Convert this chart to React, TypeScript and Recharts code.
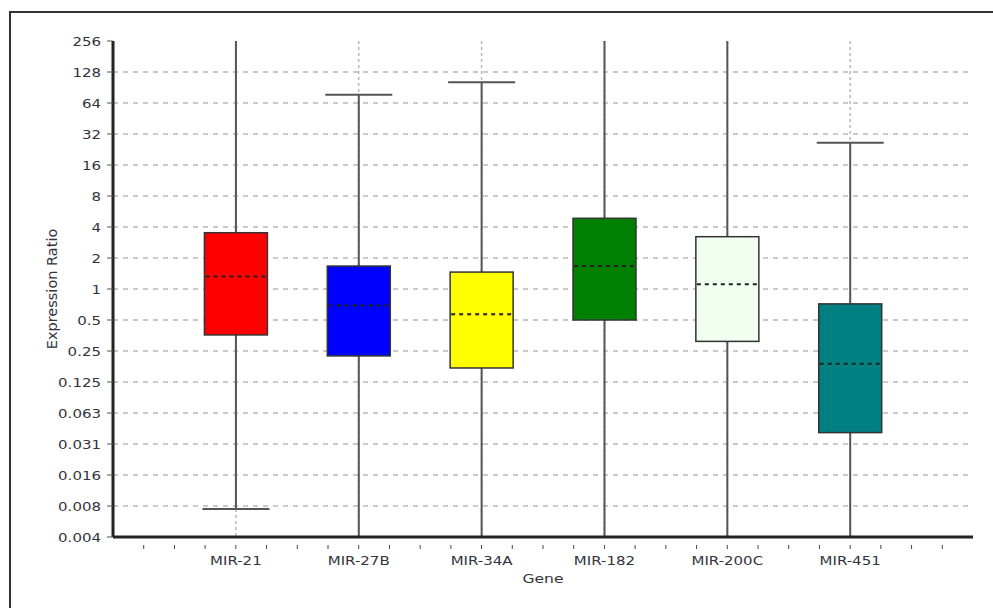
import React from 'react';
import { ComposedChart, Bar, Cell, XAxis, YAxis, CartesianGrid, Label } from 'recharts';

const categories = ['MIR-21', 'MIR-27B', 'MIR-34A', 'MIR-182', 'MIR-200C', 'MIR-451'];
const minValues = [0.0073, 0.003, 0.003, 0.003, 0.003, 0.003];
const q1Values = [0.358, 0.224, 0.171, 0.5, 0.31, 0.0403];
const medianValues = [1.32, 0.69, 0.57, 1.67, 1.11, 0.188];
const q3Values = [3.52, 1.67, 1.46, 4.86, 3.22, 0.717];
const maxValues = [400, 77, 102, 400, 400, 26.3];
const boxColors = ['#ff0000', '#0000ff', '#ffff00', '#008000', '#f0fff0', '#008080'];

const yTickValues = [256, 128, 64, 32, 16, 8, 4, 2, 1, 0.5, 0.25, 0.125, 0.0625, 0.03125, 0.015625, 0.0078125, 0.00390625];
const yTickLabels = ['256', '128', '64', '32', '16', '8', '4', '2', '1', '0.5', '0.25', '0.125', '0.063', '0.031', '0.016', '0.008', '0.004'];
const gridValues = [128, 64, 32, 16, 8, 4, 2, 1, 0.5, 0.25, 0.125, 0.0625, 0.03125, 0.015625, 0.0078125];
const categoryPositions = [1, 2, 3, 4, 5, 6];
const xTickValues = [0.25, 0.5, 0.75, 1, 1.25, 1.5, 1.75, 2, 2.25, 2.5, 2.75, 3, 3.25, 3.5, 3.75, 4, 4.25, 4.5, 4.75, 5, 5.25, 5.5, 5.75, 6, 6.25, 6.5, 6.75];

const data = categories.map((name, i) => ({
  name,
  pos: categoryPositions[i],
  min: minValues[i],
  q1: q1Values[i],
  median: medianValues[i],
  q3: q3Values[i],
  max: maxValues[i],
}));

const FONT = '"DejaVu Sans", Verdana, sans-serif';
const TEXT_FILL = '#33333d';
const STRETCH = 1.2;

function BoxShape(props: any) {
  const { x, y, width, height, payload, fill } = props;
  if (x == null || y == null || !payload) return null;
  const lMax = Math.log(payload.max);
  const lMin = Math.log(payload.min);
  const py = (v: number) => y + ((lMax - Math.log(v)) / (lMax - lMin)) * height;
  const cx = x + width / 2;
  const yQ1 = py(payload.q1);
  const yQ3 = py(payload.q3);
  const yMed = py(payload.median);
  return (
    <g>
      <line x1={cx} x2={cx} y1={y} y2={y + height} stroke="#555" strokeWidth={2} />
      <line x1={x - 2} x2={x + width + 2} y1={y} y2={y} stroke="#555" strokeWidth={2} />
      <line x1={x - 2} x2={x + width + 2} y1={y + height} y2={y + height} stroke="#555" strokeWidth={2} />
      <rect x={x} y={yQ3} width={width} height={yQ1 - yQ3} fill={fill} stroke="#333" strokeWidth={1.5} />
      <line x1={x + 1} x2={x + width - 1} y1={yMed} y2={yMed} stroke="#222" strokeWidth={2} strokeDasharray="4 4" />
    </g>
  );
}

function XTick(props: any) {
  const { x, y, payload } = props;
  const v = payload.value;
  const idx = categoryPositions.indexOf(v);
  return (
    <g>
      <line x1={x} x2={x} y1={y} y2={y + 4} stroke="#444" strokeWidth={1} />
      {idx >= 0 ? (
        <text
          transform={`translate(${x},${y + 20}) scale(${STRETCH},1)`}
          x={0}
          y={0}
          textAnchor="middle"
          fontSize={12.5}
          fontFamily={FONT}
          fill={TEXT_FILL}
        >
          {categories[idx]}
        </text>
      ) : null}
    </g>
  );
}

function YTick(props: any) {
  const { x, y, payload } = props;
  const label = yTickLabels[yTickValues.indexOf(payload.value)] ?? String(payload.value);
  return (
    <text
      transform={`translate(${x},${y}) scale(${STRETCH},1)`}
      x={0}
      y={0}
      dy="0.36em"
      textAnchor="end"
      fontSize={12.5}
      fontFamily={FONT}
      fill={TEXT_FILL}
    >
      {label}
    </text>
  );
}

function GeneLabel(props: any) {
  const vb = props.viewBox || {};
  const cx = (vb.x || 0) + (vb.width || 0) / 2;
  const by = (vb.y || 0) + (vb.height || 0) - 4;
  return (
    <text transform={`translate(${cx},${by}) scale(${STRETCH},1)`} x={0} y={0} textAnchor="middle" fontSize={13} fontFamily={FONT} fill={TEXT_FILL}>
      Gene
    </text>
  );
}

function YLabel(props: any) {
  const vb = props.viewBox || {};
  const cx = (vb.x || 0) - 6;
  const cy = (vb.y || 0) + (vb.height || 0) / 2;
  return (
    <text transform={`translate(${cx},${cy}) rotate(-90)`} x={0} y={0} textAnchor="middle" dominantBaseline="hanging" fontSize={14.5} fontFamily={FONT} fill={TEXT_FILL}>
      Expression Ratio
    </text>
  );
}

export default function App() {
  return (
    <div style={{ position: 'absolute', left: 0, top: 0, width: 993, height: 608, background: '#fff', overflow: 'hidden' }}>
      <div style={{ position: 'absolute', left: 9, top: 11, width: 1000, height: 700, borderLeft: '2px solid #333', borderTop: '2px solid #333' }} />
      <div style={{ position: 'absolute', left: 0, top: 0 }}>
        <ComposedChart width={993} height={608} data={data} margin={{ top: 41, right: 20, bottom: 21, left: 53 }}>
          <CartesianGrid yAxisId="gridY" vertical={false} syncWithTicks stroke="#b8b8b8" strokeWidth={1.5} strokeDasharray="5 5" />
          <CartesianGrid xAxisId="gridX" horizontal={false} syncWithTicks stroke="#b8b8b8" strokeWidth={1.5} strokeDasharray="3 3" />
          <XAxis
            dataKey="pos"
            type="number"
            domain={[0, 7]}
            allowDataOverflow
            ticks={xTickValues}
            interval={0}
            height={50}
            axisLine={{ stroke: '#222', strokeWidth: 3 }}
            tickLine={false}
            tick={<XTick />}
          >
            <Label content={<GeneLabel />} />
          </XAxis>
          <XAxis xAxisId="gridX" dataKey="pos" type="number" domain={[0, 7]} allowDataOverflow ticks={categoryPositions} hide height={0} />
          <YAxis
            scale="log"
            domain={[0.00390625, 256]}
            allowDataOverflow
            ticks={yTickValues}
            interval={0}
            width={60}
            tickSize={6}
            tickMargin={6}
            tick={<YTick />}
            axisLine={{ stroke: '#222', strokeWidth: 3 }}
            tickLine={{ stroke: '#555' }}
          >
            <Label content={<YLabel />} />
          </YAxis>
          <YAxis yAxisId="gridY" scale="log" domain={[0.00390625, 256]} allowDataOverflow ticks={gridValues} interval={0} hide width={0} />
          <Bar dataKey={(d: any) => [d.min, d.max]} barSize={63} shape={<BoxShape />} isAnimationActive={false}>
            {data.map((d, i) => (
              <Cell key={d.name} fill={boxColors[i]} />
            ))}
          </Bar>
        </ComposedChart>
      </div>
    </div>
  );
}
